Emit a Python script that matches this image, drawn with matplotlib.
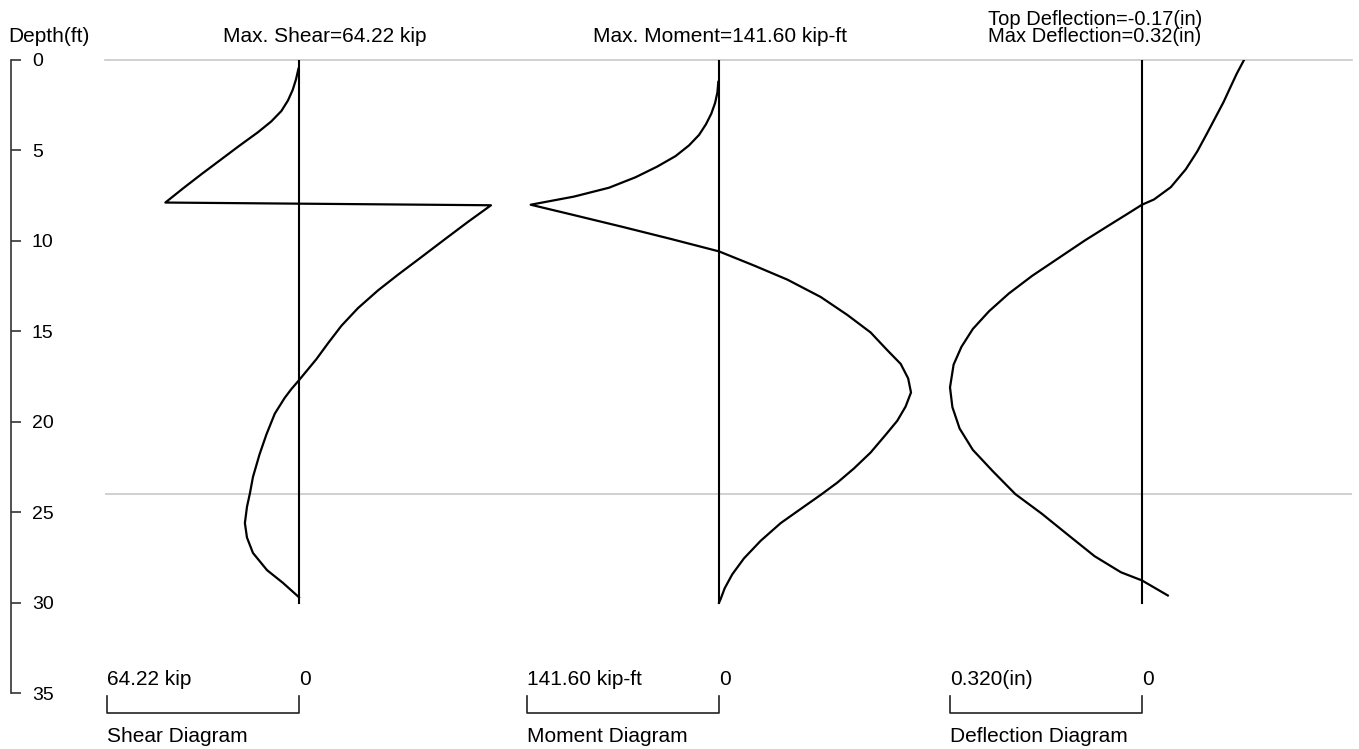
import numpy as np
import matplotlib
matplotlib.use("Agg")
import matplotlib.pyplot as plt

plt.rcParams['font.family'] = ['Liberation Sans', 'DejaVu Sans']

# Depth axis
depth_ticks = [0, 5, 10, 15, 20, 25, 30, 35]
pile_depth = [0, 30]          # zero reference line for each diagram
excavation_depth = 24.0       # grey line

# Shear diagram (kip), positive plotted to the left
shear_depth = [0.49, 1.07, 1.65, 2.24, 2.82, 3.4, 3.99, 4.77, 5.54, 6.32, 7.1, 7.88,
               8.03, 8.95, 9.92, 10.9, 11.87, 12.74, 13.72, 14.69, 15.66, 16.54,
               17.2, 17.7, 18.2, 18.68, 19.55, 20.7, 21.8, 23.05, 23.94, 24.7,
               25.6, 26.4, 27.25, 28.2, 28.9, 29.7]
shear = [0.2, 1.0, 2.1, 3.7, 5.9, 9.3, 13.7, 20.2, 26.4, 32.7, 38.8, 44.7,
         -64.22, -56.5, -48.7, -40.9, -33.1, -26.4, -19.7, -14.2, -9.7, -5.8,
         -2.5, 0, 2.6, 4.8, 8.1, 10.9, 13.2, 15.4, 16.4, 17.4,
         18.1, 17.4, 15.4, 10.7, 5.4, 0]
max_shear = 64.22

# Moment diagram (kip-ft)
moment_depth = [1.21, 1.8, 2.38, 2.97, 3.55, 4.14, 4.72, 5.31, 5.89, 6.48, 7.06, 7.55,
                8.0, 8.53, 9.2, 9.89, 10.58, 11.36, 12.14, 13.1, 14.09, 15.06,
                16.04, 16.8, 17.6, 18.38, 19.16, 19.94, 20.72, 21.7, 22.58, 23.36,
                24.04, 24.82, 25.6, 26.58, 27.55, 28.43, 29.2, 29.8, 30.0]
moment = [0.5, 1.2, 2.9, 5.7, 9.6, 14.7, 22.1, 32.0, 45.5, 61.5, 81.1, 106.9,
          138.9, 109.4, 72.5, 35.6, 0, -25.8, -50.4, -75.0, -94.6, -111.8,
          -124.1, -134.0, -139.5, -141.6, -137.6, -131.5, -122.9, -111.8, -99.5, -87.3,
          -75.0, -60.2, -45.5, -30.7, -18.4, -9.8, -4.2, -1.2, 0]
max_moment = 141.60

# Deflection diagram (in)
defl_depth = [0.0, 0.75, 1.53, 2.32, 3.2, 4.08, 5.06, 6.04, 7.03, 7.71, 8.0, 8.5,
              9.18, 9.97, 10.95, 11.93, 12.91, 13.89, 14.87, 15.86, 16.84, 18.1,
              19.19, 20.37, 21.55, 22.72, 24.0, 25.08, 26.26, 27.43, 28.32, 28.77,
              29.6]
deflection = [-0.170, -0.158, -0.147, -0.136, -0.122, -0.108, -0.092, -0.073, -0.048,
              -0.020, 0, 0.024, 0.057, 0.095, 0.139, 0.183, 0.222, 0.255, 0.282,
              0.301, 0.314, 0.320, 0.316, 0.304, 0.282, 0.249, 0.211, 0.167, 0.123,
              0.079, 0.035, 0, -0.043]
max_defl = 0.320

# figure geometry (pixels)
W, H = 1359, 749
Y0 = 60          # pixel row of depth 0
PX_FT = 18.09    # pixels per foot
BAR = 192        # pixel length of each scale bar
FS = 15
depth_bottom = (H - Y0) / PX_FT
top_frac = 1 - Y0 / H

fig = plt.figure(figsize=(W / 100, H / 100), dpi=100)


def px_text(x, y, s, **kw):
    kw.setdefault('fontsize', FS)
    fig.text(x / W, 1 - y / H, s, va='baseline', **kw)


# grey horizontal lines
ax_bg = fig.add_axes([105 / W, 0, (1352 - 105) / W, top_frac])
ax_bg.set_ylim(depth_bottom, 0)
ax_bg.axhline(0, color='#c8c8c8', lw=1.2, clip_on=False)
ax_bg.axhline(excavation_depth, color='#c8c8c8', lw=1.2)
ax_bg.axis('off')

# depth axis
ax_d = fig.add_axes([10 / W, 0, 0.0008, top_frac])
ax_d.set_ylim(depth_bottom, 0)
for s in ['left', 'top', 'bottom']:
    ax_d.spines[s].set_visible(False)
ax_d.spines['right'].set_bounds(0, 35)
ax_d.spines['right'].set_color('#333333')
ax_d.spines['right'].set_linewidth(1.2)
ax_d.yaxis.tick_right()
ax_d.set_yticks(depth_ticks)
ax_d.set_xticks([])
ax_d.tick_params(axis='y', direction='out', length=7, width=1.2, pad=8,
                 labelsize=14, color='#333333')
ax_d.patch.set_visible(False)


def diagram(x_left, x_zero, x_right, depth, values, vmax, label, name):
    ax = fig.add_axes([x_left / W, 0, (x_right - x_left) / W, top_frac])
    k = vmax / BAR
    ax.set_xlim((x_zero - x_left) * k, -(x_right - x_zero) * k)
    ax.set_ylim(depth_bottom, 0)
    ax.axis('off')
    ax.plot([0, 0], pile_depth, color='black', lw=1.5)
    ax.plot(values, depth, color='black', lw=1.6)
    # scale bar
    ax.plot([vmax, vmax, 0, 0], [35.15, 36.1, 36.1, 35.15], color='#222222',
            lw=1.2, clip_on=False)
    ax.text(vmax, 34.55, label, fontsize=FS, ha='left', va='baseline')
    ax.text(0, 34.55, '0', fontsize=FS, ha='left', va='baseline')
    ax.text(vmax, 37.7, name, fontsize=FS, ha='left', va='baseline')
    return ax


diagram(100, 299, 520, shear_depth, shear, max_shear, '64.22 kip', 'Shear Diagram')
diagram(515, 719, 935, moment_depth, moment, max_moment, '141.60 kip-ft', 'Moment Diagram')
diagram(935, 1142, 1300, defl_depth, deflection, max_defl, '0.320(in)', 'Deflection Diagram')

px_text(8, 42, 'Depth(ft)', ha='left')
px_text(325, 42, 'Max. Shear=64.22 kip', ha='center')
px_text(720, 42, 'Max. Moment=141.60 kip-ft', ha='center')
px_text(988, 42, 'Top Deflection=-0.17(in)\nMax Deflection=0.32(in)', ha='left',
        fontsize=14.5, linespacing=0.86)

fig.savefig('out.png', dpi=100)
